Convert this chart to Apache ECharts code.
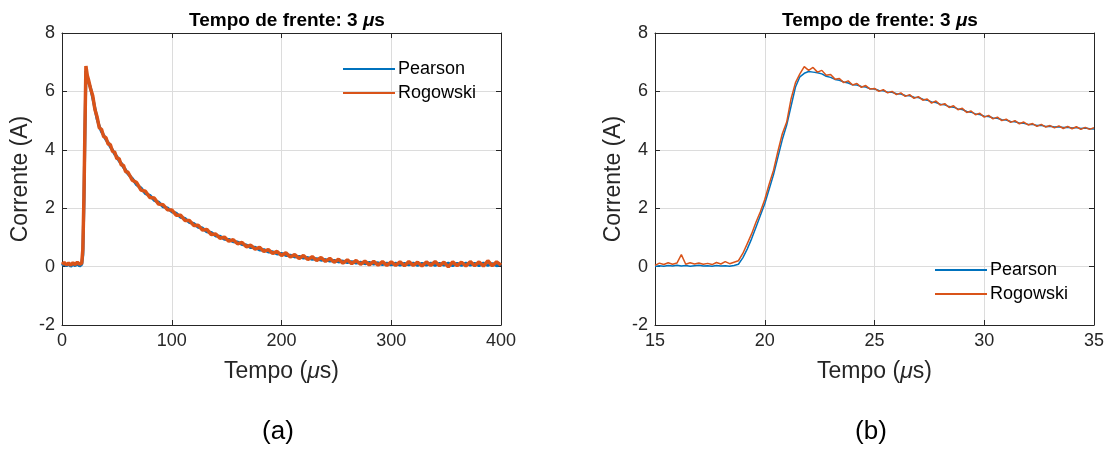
<!DOCTYPE html>
<html lang="pt">
<head>
  <meta charset="UTF-8">
  <title>Tempo de frente</title>
  <script src="https://cdn.jsdelivr.net/npm/echarts@6/dist/echarts.min.js"></script>
  <style>
    html, body { margin: 0; padding: 0; background: #fff; }
    #chart { width: 1111px; height: 450px; }
  </style>
</head>
<body>
  <div id="chart"></div>
<script>
  // (a) 0-400 us
  let tA = [0, 2, 4, 6, 8, 10, 12, 14, 16, 18,
    19, 20, 21, 21.8,
    23, 24, 26, 28, 30, 32, 34, 36, 38, 40,
    42, 44, 46, 48, 50, 52, 54, 56, 58, 60,
    64, 68, 72, 76, 80, 84, 88, 92, 96, 100,
    104, 108, 112, 116, 120, 124, 128, 132, 136, 140,
    144, 148, 152, 156, 160, 164, 168, 172, 176, 180,
    184, 188, 192, 196, 200, 204, 208, 212, 216, 220,
    224, 228, 232, 236, 240, 244, 248, 252, 256, 260,
    264, 268, 272, 276, 280, 284, 288, 292, 296, 300,
    304, 308, 312, 316, 320, 324, 328, 332, 336, 340,
    344, 348, 352, 356, 360, 364, 368, 372, 376, 380,
    384, 388, 392, 396, 400]
  let pearsonA = [0.03, 0.1, 0.02, 0.09, 0.01, 0.08, 0.03, 0.1, 0.02, 0.08,
    0.4, 2.2, 4.8, 6.7,
    6.5, 6.35, 6.12, 5.78, 5.42, 5.05, 4.8, 4.62, 4.5, 4.35,
    4.25, 4.1, 4.0, 3.85, 3.77, 3.62, 3.54, 3.4, 3.31, 3.18,
    3.02, 2.8, 2.69, 2.5, 2.44, 2.27, 2.21, 2.05, 2.01, 1.88,
    1.83, 1.69, 1.65, 1.51, 1.48, 1.35, 1.32, 1.19, 1.17, 1.05,
    1.04, 0.94, 0.93, 0.85, 0.84, 0.76, 0.74, 0.65, 0.66, 0.57,
    0.58, 0.5, 0.51, 0.43, 0.45, 0.38, 0.39, 0.33, 0.35, 0.29,
    0.31, 0.25, 0.27, 0.22, 0.24, 0.19, 0.21, 0.16, 0.19, 0.14,
    0.17, 0.12, 0.15, 0.1, 0.14, 0.09, 0.13, 0.07, 0.12, 0.06,
    0.12, 0.05, 0.11, 0.06, 0.12, 0.04, 0.11, 0.05, 0.12, 0.04,
    0.11, 0.05, 0.12, 0.03, 0.11, 0.04, 0.12, 0.05, 0.11, 0.03,
    0.12, 0.04, 0.1, 0.03, 0.08]
  let rogowskiA = [0.08, 0.14, 0.06, 0.12, 0.05, 0.13, 0.07, 0.15, 0.08, 0.12,
    0.6, 2.4, 5.0, 6.87,
    6.55, 6.42, 6.1, 5.85, 5.38, 5.12, 4.75, 4.7, 4.45, 4.42,
    4.2, 4.18, 3.95, 3.92, 3.7, 3.7, 3.48, 3.47, 3.25, 3.24,
    2.96, 2.88, 2.62, 2.58, 2.37, 2.35, 2.14, 2.12, 1.95, 1.94,
    1.76, 1.76, 1.58, 1.58, 1.41, 1.42, 1.25, 1.27, 1.1, 1.12,
    0.97, 1.01, 0.87, 0.92, 0.78, 0.83, 0.68, 0.73, 0.6, 0.66,
    0.52, 0.58, 0.45, 0.52, 0.38, 0.47, 0.33, 0.41, 0.28, 0.38,
    0.24, 0.34, 0.21, 0.31, 0.18, 0.28, 0.15, 0.25, 0.12, 0.23,
    0.1, 0.21, 0.08, 0.19, 0.06, 0.18, 0.05, 0.17, 0.04, 0.16,
    0.04, 0.16, 0.03, 0.17, 0.04, 0.15, 0.02, 0.16, 0.04, 0.17,
    0.03, 0.15, -0.01, 0.16, 0.03, 0.15, 0.02, 0.17, 0.03, 0.16,
    0.02, 0.2, 0.03, 0.16, 0.05]

  // (b) 15-35 us
  let tB = [15.0, 15.2, 15.4, 15.6, 15.8, 16.0, 16.2, 16.4, 16.6, 16.8,
    17.0, 17.2, 17.4, 17.6, 17.8, 18.0, 18.2, 18.4, 18.6, 18.8,
    19.0, 19.2, 19.4, 19.6, 19.8, 20.0, 20.2, 20.4, 20.6, 20.8,
    21.0, 21.2, 21.4, 21.6, 21.8, 22.0, 22.2, 22.4, 22.6, 22.8,
    23.0, 23.2, 23.4, 23.6, 23.8, 24.0, 24.2, 24.4, 24.6, 24.8,
    25.0, 25.2, 25.4, 25.6, 25.8, 26.0, 26.2, 26.4, 26.6, 26.8,
    27.0, 27.2, 27.4, 27.6, 27.8, 28.0, 28.2, 28.4, 28.6, 28.8,
    29.0, 29.2, 29.4, 29.6, 29.8, 30.0, 30.2, 30.4, 30.6, 30.8,
    31.0, 31.2, 31.4, 31.6, 31.8, 32.0, 32.2, 32.4, 32.6, 32.8,
    33.0, 33.2, 33.4, 33.6, 33.8, 34.0, 34.2, 34.4, 34.6, 34.8,
    35.0]
  let pearsonB = [0.0, 0.03, 0.01, 0.04, 0.02, 0.05, 0.02, 0.04, 0.01, 0.03,
    0.05, 0.02, 0.03, 0.01, 0.04, 0.02, 0.03, 0.01, 0.04, 0.08,
    0.3, 0.6, 0.95, 1.35, 1.75, 2.15, 2.65, 3.15, 3.75, 4.35,
    4.85, 5.5, 6.15, 6.5, 6.62, 6.68, 6.66, 6.64, 6.6, 6.52,
    6.48, 6.41, 6.38, 6.32, 6.29, 6.23, 6.22, 6.17, 6.15, 6.09,
    6.08, 6.03, 6.02, 5.97, 5.97, 5.92, 5.91, 5.86, 5.85, 5.8,
    5.79, 5.73, 5.7, 5.64, 5.62, 5.56, 5.54, 5.48, 5.46, 5.4,
    5.38, 5.31, 5.29, 5.23, 5.21, 5.15, 5.14, 5.09, 5.08, 5.03,
    5.02, 4.97, 4.96, 4.92, 4.91, 4.87, 4.87, 4.83, 4.84, 4.8,
    4.81, 4.78, 4.79, 4.76, 4.77, 4.75, 4.76, 4.73, 4.75, 4.72,
    4.71]
  let rogowskiB = [0.04, 0.12, 0.07, 0.13, 0.08, 0.12, 0.41, 0.08, 0.13, 0.09,
    0.12, 0.08, 0.11, 0.07, 0.14, 0.09, 0.17, 0.1, 0.15, 0.2,
    0.45, 0.78, 1.12, 1.52, 1.88, 2.3, 2.82, 3.3, 3.95, 4.55,
    4.95, 5.75, 6.3, 6.6, 6.85, 6.72, 6.82, 6.66, 6.72, 6.55,
    6.58, 6.42, 6.44, 6.3, 6.36, 6.22, 6.27, 6.14, 6.2, 6.08,
    6.1, 6.0, 6.06, 5.95, 6.0, 5.89, 5.95, 5.83, 5.89, 5.76,
    5.82, 5.7, 5.74, 5.6, 5.67, 5.53, 5.58, 5.45, 5.51, 5.37,
    5.42, 5.28, 5.33, 5.2, 5.25, 5.12, 5.18, 5.06, 5.12, 5.0,
    5.05, 4.94, 5.0, 4.89, 4.95, 4.85, 4.9, 4.8, 4.87, 4.78,
    4.83, 4.75, 4.82, 4.73, 4.8, 4.72, 4.79, 4.7, 4.77, 4.7,
    4.76]

  let seriesNames = ['Pearson', 'Rogowski']
  let colors = ['#0072BD', '#D95319']
  let font = 'Liberation Sans, Arial, sans-serif'
  let ink = '#262626'

  function pairs(t, v) {
    return t.map((x, i) => [x, v[i]])
  }

  function mainX(gi, min, max, step) {
    return {
      type: 'value', gridIndex: gi, min: min, max: max, interval: step,
      name: 'Tempo ({i|μ}s)', nameLocation: 'middle', nameGap: 35,
      nameTextStyle: { fontFamily: font, fontSize: 23, color: ink,
        rich: { i: { fontFamily: font, fontSize: 23, color: ink, fontStyle: 'italic' } } },
      axisLine: { onZero: false, lineStyle: { color: ink, width: 1 } },
      axisTick: { inside: true, length: 5, lineStyle: { color: ink } },
      axisLabel: { fontFamily: font, fontSize: 18, color: ink, margin: 7 },
      splitLine: { show: true, lineStyle: { color: '#dcdcdc', width: 1 } }
    }
  }

  function mainY(gi) {
    return {
      type: 'value', gridIndex: gi, min: -2, max: 8, interval: 2,
      name: 'Corrente (A)', nameLocation: 'middle', nameGap: 30,
      nameTextStyle: { fontFamily: font, fontSize: 23, color: ink },
      axisLine: { onZero: false, lineStyle: { color: ink, width: 1 } },
      axisTick: { inside: true, length: 5, lineStyle: { color: ink } },
      axisLabel: { fontFamily: font, fontSize: 18, color: ink, margin: 7 },
      splitLine: { show: true, lineStyle: { color: '#dcdcdc', width: 1 } }
    }
  }

  // top / right sides of the box, ticks only
  function boxAxis(gi, pos, min, max, step) {
    return {
      type: 'value', gridIndex: gi, position: pos, min: min, max: max, interval: step,
      axisLine: { show: true, onZero: false, lineStyle: { color: ink, width: 1 } },
      axisTick: { show: true, inside: true, length: 5, lineStyle: { color: ink } },
      axisLabel: { show: false },
      splitLine: { show: false }
    }
  }

  function line(name, xi, yi, data, color, w) {
    return {
      type: 'line', name: name, xAxisIndex: xi, yAxisIndex: yi,
      data: data, showSymbol: false, symbol: 'none',
      lineStyle: { color: color, width: w }, itemStyle: { color: color },
      z: name == 'Rogowski' ? 3 : 2
    }
  }

  function titleText(x) {
    return {
      text: '{b|Tempo de frente: 3 }{i|μ}{b|s}', left: x, top: 6, textAlign: 'center',
      textStyle: {
        rich: {
          b: { fontFamily: font, fontSize: 19, fontWeight: 'bold', color: '#000' },
          i: { fontFamily: font, fontSize: 19, fontStyle: 'italic', color: '#000' }
        }
      }
    }
  }

  function capText(txt, x) {
    return {
      text: txt, left: x, top: 414, textAlign: 'center',
      textStyle: { fontFamily: font, fontSize: 26, fontWeight: 'normal', color: '#000' }
    }
  }

  let legendBase = {
    data: seriesNames, orient: 'vertical', icon: 'rect',
    itemWidth: 52, itemHeight: 2, itemGap: 6,
    textStyle: { fontFamily: font, fontSize: 18, color: '#000', padding: [0, 0, 0, -2] }
  }

  let chart = echarts.init(document.getElementById('chart'))
  chart.setOption({
    animation: false,
    color: colors,
    title: [titleText(282), titleText(875), capText('(a)', 273), capText('(b)', 866)],
    legend: [
      Object.assign({}, legendBase, { left: 338, top: 55 }),
      Object.assign({}, legendBase, { left: 930, top: 256 })
    ],
    grid: [
      { left: 62, top: 33, width: 439, height: 292 },
      { left: 655, top: 33, width: 439, height: 292 }
    ],
    xAxis: [
      mainX(0, 0, 400, 100), boxAxis(0, 'top', 0, 400, 100),
      mainX(1, 15, 35, 5), boxAxis(1, 'top', 15, 35, 5)
    ],
    yAxis: [
      mainY(0), boxAxis(0, 'right', -2, 8, 2),
      mainY(1), boxAxis(1, 'right', -2, 8, 2)
    ],
    series: [
      line('Pearson', 0, 0, pairs(tA, pearsonA), colors[0], 3),
      line('Rogowski', 0, 0, pairs(tA, rogowskiA), colors[1], 3.5),
      line('Pearson', 2, 2, pairs(tB, pearsonB), colors[0], 1.5),
      line('Rogowski', 2, 2, pairs(tB, rogowskiB), colors[1], 1.5)
    ]
  })
</script>
</body>
</html>
